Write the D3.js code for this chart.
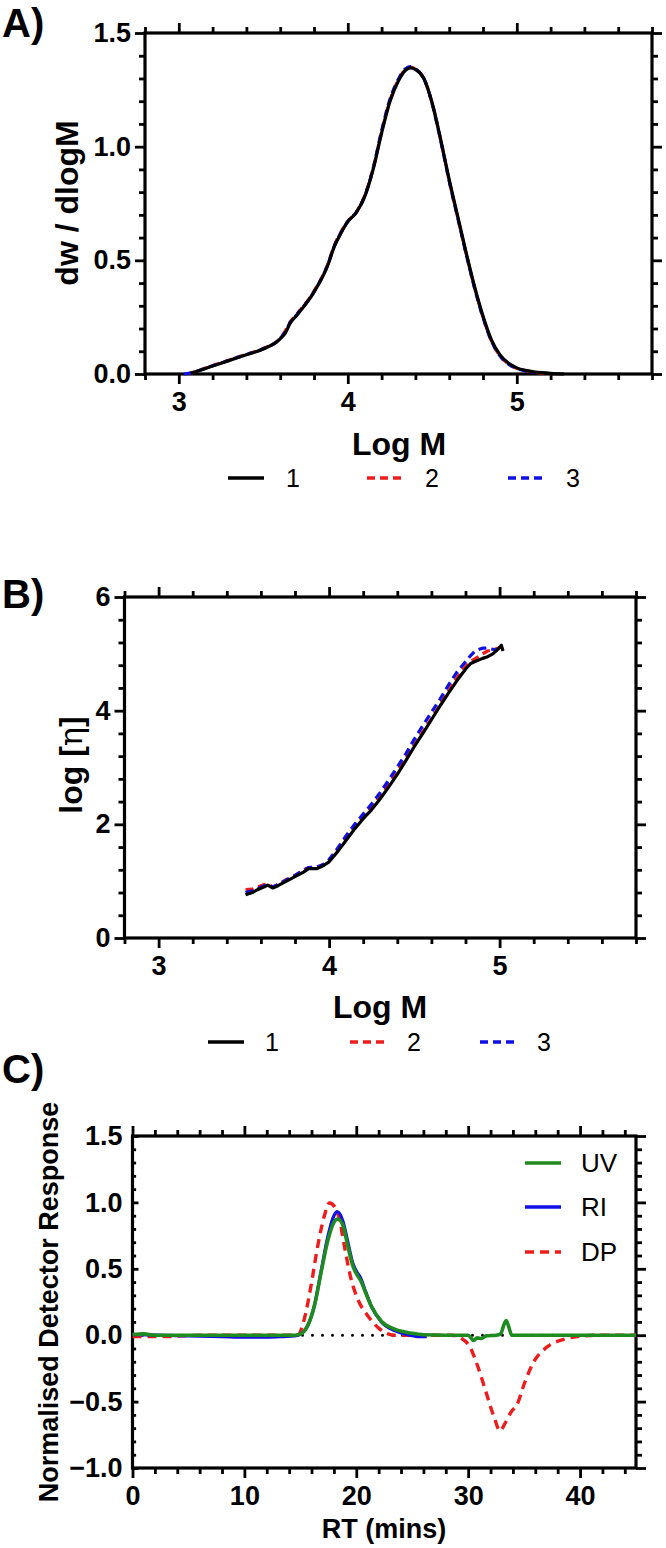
<!DOCTYPE html>
<html>
<head>
<meta charset="utf-8">
<script src="https://cdn.jsdelivr.net/npm/d3@7"></script>
<style>
html,body{margin:0;padding:0;background:#fff;}
svg{display:block;}
text{font-family:"Liberation Sans",Arial,sans-serif;fill:#000;}
</style>
</head>
<body>
<svg id="fig" width="666" height="1548"></svg>
<script>
// ---------- Panel A data: dw/dlogM vs Log M ----------
const A_logM = [3.03,3.05,3.07,3.1,3.2,3.3,3.4,3.5,3.6,3.63,3.66,3.7,3.8,3.88,3.92,3.96,4.0,4.05,4.1,4.15,4.2,4.25,4.3,4.34,4.37,4.4,4.45,4.5,4.55,4.6,4.65,4.7,4.75,4.8,4.85,4.9,4.95,5.0,5.05,5.1,5.15,5.2,5.28];
const A_s1 = [null,null,0.003,0.01,0.035,0.06,0.085,0.11,0.155,0.18,0.225,0.26,0.36,0.475,0.56,0.62,0.67,0.71,0.78,0.9,1.06,1.2,1.29,1.335,1.347,1.34,1.3,1.19,1.03,0.855,0.695,0.535,0.385,0.255,0.15,0.085,0.048,0.027,0.016,0.01,0.006,0.003,0.0];
const A_s2 = [null,0.0,0.004,0.012,0.037,0.062,0.087,0.112,0.158,0.19,0.23,0.265,0.365,0.48,0.565,0.625,0.672,0.712,0.785,0.905,1.065,1.205,1.295,1.34,1.35,1.342,1.3,1.188,1.028,0.85,0.69,0.53,0.38,0.25,0.145,0.08,0.045,0.025,0.015,0.008,0.004,0.001,null];
const A_s3 = [0.0,0.002,0.005,0.011,0.036,0.061,0.086,0.111,0.156,0.185,0.228,0.263,0.362,0.478,0.562,0.622,0.671,0.711,0.782,0.905,1.07,1.21,1.298,1.342,1.352,1.343,1.3,1.186,1.025,0.848,0.688,0.528,0.378,0.248,0.145,0.08,0.044,0.024,0.013,0.007,null,null,null];
const A_xTicks = [3,4,5];
const A_yTicks = [0.0,0.5,1.0,1.5];

// ---------- Panel B data: log[eta] vs Log M ----------
const B_logM = [3.51,3.55,3.58,3.62,3.64,3.67,3.7,3.75,3.8,3.85,3.88,3.93,3.97,4.0,4.05,4.1,4.15,4.2,4.25,4.3,4.35,4.4,4.45,4.5,4.55,4.6,4.65,4.7,4.75,4.8,4.83,4.86,4.9,4.93,4.96,4.99,5.01,5.02];
const B_s1 = [0.76,0.8,0.85,0.9,0.93,0.88,0.92,1.0,1.08,1.16,1.22,1.22,1.28,1.34,1.52,1.72,1.92,2.1,2.26,2.45,2.66,2.88,3.12,3.37,3.6,3.84,4.08,4.31,4.53,4.73,4.83,4.87,4.92,4.95,5.0,5.08,5.15,5.05];
const B_s2 = [0.85,0.86,0.9,0.94,0.95,0.9,0.94,1.03,1.1,1.2,1.24,1.25,1.3,1.36,1.55,1.76,1.95,2.13,2.3,2.5,2.7,2.93,3.16,3.4,3.63,3.86,4.1,4.35,4.58,4.78,4.87,4.92,5.0,5.05,5.07,5.1,5.12,5.02];
const B_s3 = [0.8,0.83,0.87,0.92,0.92,0.9,0.94,1.02,1.1,1.19,1.24,1.25,1.3,1.38,1.58,1.8,2.0,2.18,2.36,2.56,2.78,3.01,3.24,3.5,3.74,3.97,4.2,4.45,4.68,4.86,4.97,5.06,5.1,5.1,5.08,5.06,null,null];
const B_xTicks = [3,4,5];
const B_yTicks = [0,2,4,6];

// ---------- Panel C data: normalised detector response vs RT ----------
const C_rtUV = [0,1,2,5,8,11,13,14.5,15.05,15.65,16.25,16.85,17.45,18.0,18.35,18.8,19.25,19.7,20.1,20.4,20.74,21.34,22.24,23.43,24.93,26,28,30,30.5,30.8,31.2,31.6,32.5,32.9,33.2,33.4,33.6,33.9,35,38,41,45];
const C_UV = [0.005,0.01,0.0,0.0,0.0,0.0,0.0,0.0,0.01,0.07,0.22,0.47,0.71,0.85,0.875,0.83,0.67,0.52,0.45,0.41,0.34,0.22,0.105,0.045,0.015,0.003,0.0,0.0,-0.04,-0.02,-0.025,-0.005,0.0,0.01,0.08,0.11,0.07,0.0,0.0,0.0,0.0,0.0];
const C_rtRI = [0,2,5,8,10,12,13.5,14.5,15.05,15.65,16.25,16.85,17.45,18.0,18.3,18.8,19.25,19.7,20.1,20.4,20.74,21.34,22.24,23.43,24.5,25.5,26.3];
const C_RI = [0.005,0.0,-0.005,-0.01,-0.015,-0.015,-0.01,-0.005,0.01,0.07,0.22,0.48,0.74,0.9,0.93,0.86,0.7,0.54,0.47,0.43,0.35,0.22,0.1,0.035,0.005,-0.01,-0.01];
const C_rtDP = [0,3,6,10,14,14.75,15.35,15.95,16.55,17.15,17.6,18.04,18.5,18.94,19.54,20.14,21.04,21.94,22.84,23.4,26,28.55,29.3,30.1,30.84,31.6,32.37,32.83,33.32,33.9,34.3,35.04,35.8,36.95,38.47,40,41.5,45];
const C_DP = [-0.01,-0.01,0,0,0,0.0,0.12,0.37,0.67,0.9,0.995,0.97,0.87,0.67,0.42,0.27,0.145,0.058,0.01,0,0,0,-0.02,-0.08,-0.23,-0.43,-0.63,-0.72,-0.66,-0.57,-0.535,-0.36,-0.21,-0.095,-0.033,-0.008,0,0];
const C_xTicks = [0,10,20,30,40];
const C_yTicks = [-1.0,-0.5,0.0,0.5,1.0,1.5];

const legendAB = ["1","2","3"];
const legendC = ["UV","RI","DP"];

const COL_BLACK = "#000000", COL_RED = "#ee1c1c", COL_BLUE = "#1010e6", COL_GREEN = "#1f8a1f";

const svg = d3.select("#fig");

function range(a,b,s){const r=[];for(let v=a;v<=b+1e-9;v+=s)r.push(+v.toFixed(6));return r;}

function frame(cfg){
  const g = svg.append("g");
  const x = d3.scaleLinear().domain(cfg.xDomain).range([cfg.left,cfg.right]);
  const y = d3.scaleLinear().domain(cfg.yDomain).range([cfg.bottom,cfg.top]);
  const xMinor = range(cfg.xDomain[0],cfg.xDomain[1],cfg.xMinor).filter(v=>!cfg.xTicks.some(t=>Math.abs(t-v)<1e-6));
  const yMinor = range(cfg.yDomain[0],cfg.yDomain[1],cfg.yMinor).filter(v=>!cfg.yTicks.some(t=>Math.abs(t-v)<1e-6));
  const style = sel => { sel.select(".domain").remove(); sel.selectAll("line").attr("stroke","#000").attr("stroke-width",2.8); };
  const fmt = cfg.yFmt;
  const tf = sel => sel.selectAll("text").attr("font-size",cfg.tickFont).attr("font-weight","bold").attr("font-family","Liberation Sans, Arial, sans-serif");
  // bottom
  g.append("g").attr("transform",`translate(0,${cfg.bottom})`).call(d3.axisBottom(x).tickValues(cfg.xTicks).tickSize(10).tickPadding(8).tickFormat(cfg.xFmt)).call(style).call(tf);
  g.append("g").attr("transform",`translate(0,${cfg.bottom})`).call(d3.axisBottom(x).tickValues(xMinor).tickSize(6).tickFormat("")).call(style);
  // top
  g.append("g").attr("transform",`translate(0,${cfg.top})`).call(d3.axisTop(x).tickValues(cfg.xTicks).tickSize(10).tickFormat("")).call(style);
  g.append("g").attr("transform",`translate(0,${cfg.top})`).call(d3.axisTop(x).tickValues(xMinor).tickSize(6).tickFormat("")).call(style);
  // left
  g.append("g").attr("transform",`translate(${cfg.left},0)`).call(d3.axisLeft(y).tickValues(cfg.yTicks).tickSize(cfg.leftTick).tickPadding(cfg.leftPad).tickFormat(fmt)).call(style).call(tf);
  g.append("g").attr("transform",`translate(${cfg.left},0)`).call(d3.axisLeft(y).tickValues(yMinor).tickSize(cfg.leftTick*0.6).tickFormat("")).call(style);
  // right
  g.append("g").attr("transform",`translate(${cfg.right},0)`).call(d3.axisRight(y).tickValues(cfg.yTicks).tickSize(10).tickFormat("")).call(style);
  g.append("g").attr("transform",`translate(${cfg.right},0)`).call(d3.axisRight(y).tickValues(yMinor).tickSize(6).tickFormat("")).call(style);
  // frame lines
  g.append("rect").attr("x",cfg.left).attr("y",cfg.top).attr("width",cfg.right-cfg.left).attr("height",cfg.bottom-cfg.top)
    .attr("fill","none").attr("stroke","#000").attr("stroke-width",3.2);
  return {x,y};
}

function drawLine(s, xs, ys, color, dash, width, curve){
  const pts = xs.map((v,i)=>[v,ys[i]]).filter(p=>p[1]!==null && p[1]!==undefined);
  const line = d3.line().x(d=>s.x(d[0])).y(d=>s.y(d[1])).curve(curve||d3.curveMonotoneX);
  svg.append("path").datum(pts).attr("d",line).attr("fill","none").attr("stroke",color)
    .attr("stroke-width",width).attr("stroke-dasharray",dash||null).attr("stroke-linejoin","round");
}

function label(txt,x,y,size,weight,anchor,rot){
  const t = svg.append("text").attr("font-size",size).attr("font-weight",weight||"bold")
    .attr("text-anchor",anchor||"middle").text(txt);
  if(rot) t.attr("transform",`translate(${x},${y}) rotate(${rot})`);
  else t.attr("x",x).attr("y",y);
  return t;
}

// ===== Panel A =====
const sA = frame({left:145,right:652,top:33,bottom:374,xDomain:[2.8,5.8],yDomain:[0,1.5],
  xTicks:A_xTicks,yTicks:A_yTicks,xMinor:0.2,yMinor:0.1,tickFont:27,leftTick:10,leftPad:4,
  xFmt:d3.format("d"),yFmt:d3.format(".1f")});
drawLine(sA,A_logM,A_s2,COL_RED,"8,5",3.2);
drawLine(sA,A_logM,A_s3,COL_BLUE,"8,5",3.2);
drawLine(sA,A_logM,A_s1,COL_BLACK,null,3.2);
label("A)",2,37,40,"bold","start");
label("dw / dlogM",78,203,32,"bold","middle",-90);
label("Log M",399,455,32,"bold","middle");
const legA = [{x:228,c:COL_BLACK,d:null},{x:367,c:COL_RED,d:"8,5"},{x:508,c:COL_BLUE,d:"8,5"}];
legA.forEach((L,i)=>{
  svg.append("line").attr("x1",L.x).attr("x2",L.x+36).attr("y1",478).attr("y2",478).attr("stroke",L.c).attr("stroke-width",3.5).attr("stroke-dasharray",L.d);
  label(legendAB[i],L.x+58,487,25,"normal","start");
});

// ===== Panel B =====
const sB = frame({left:124.5,right:636,top:597,bottom:938,xDomain:[2.8,5.8],yDomain:[0,6],
  xTicks:B_xTicks,yTicks:B_yTicks,xMinor:0.2,yMinor:0.4,tickFont:27,leftTick:10,leftPad:4,
  xFmt:d3.format("d"),yFmt:d3.format("d")});
drawLine(sB,B_logM,B_s2,COL_RED,"8,5",3.2,d3.curveLinear);
drawLine(sB,B_logM,B_s3,COL_BLUE,"8,5",3.2,d3.curveLinear);
drawLine(sB,B_logM,B_s1,COL_BLACK,null,3.2,d3.curveLinear);
label("B)",2,608,40,"bold","start");
const tB = svg.append("text").attr("font-size",32).attr("font-weight","bold").attr("text-anchor","middle")
  .attr("transform","translate(82,765) rotate(-90)");
tB.append("tspan").text("log [");
tB.append("tspan").attr("font-family","DejaVu Serif, serif").attr("font-weight","normal").text("η");
tB.append("tspan").text("]");
label("Log M",380,1018,32,"bold","middle");
const legB = [{x:208,c:COL_BLACK,d:null},{x:350,c:COL_RED,d:"8,5"},{x:480,c:COL_BLUE,d:"8,5"}];
legB.forEach((L,i)=>{
  svg.append("line").attr("x1",L.x).attr("x2",L.x+36).attr("y1",1042).attr("y2",1042).attr("stroke",L.c).attr("stroke-width",3.5).attr("stroke-dasharray",L.d);
  label(legendAB[i],L.x+57,1051,25,"normal","start");
});

// ===== Panel C =====
const sC = frame({left:132.5,right:636,top:1136,bottom:1468,xDomain:[0,45],yDomain:[-1,1.5],
  xTicks:C_xTicks,yTicks:C_yTicks,xMinor:2,yMinor:0.1,tickFont:27,leftTick:-6,leftPad:10,
  xFmt:d3.format("d"),yFmt:d3.format(".1f")});
svg.append("line").attr("x1",sC.x(0)).attr("x2",sC.x(45)).attr("y1",sC.y(0)).attr("y2",sC.y(0))
  .attr("stroke","#000").attr("stroke-width",3).attr("stroke-linecap","round").attr("stroke-dasharray","0,10");
drawLine(sC,C_rtDP,C_DP,COL_RED,"9,6",3.4);
drawLine(sC,C_rtRI,C_RI,COL_BLUE,null,3.2);
drawLine(sC,C_rtUV,C_UV,COL_GREEN,null,3.6);
label("C)",2,1083,40,"bold","start");
label("Normalised Detector Response",58,1302,27,"bold","middle",-90);
label("RT (mins)",384,1538,27,"bold","middle");
const legCc = [{y:1163,c:COL_GREEN,d:null},{y:1207,c:COL_BLUE,d:null},{y:1252,c:COL_RED,d:"9,6"}];
legCc.forEach((L,i)=>{
  svg.append("line").attr("x1",525).attr("x2",561).attr("y1",L.y).attr("y2",L.y).attr("stroke",L.c).attr("stroke-width",3.5).attr("stroke-dasharray",L.d);
  label(legendC[i],581,L.y+9,26,"normal","start");
});
</script>
</body>
</html>
